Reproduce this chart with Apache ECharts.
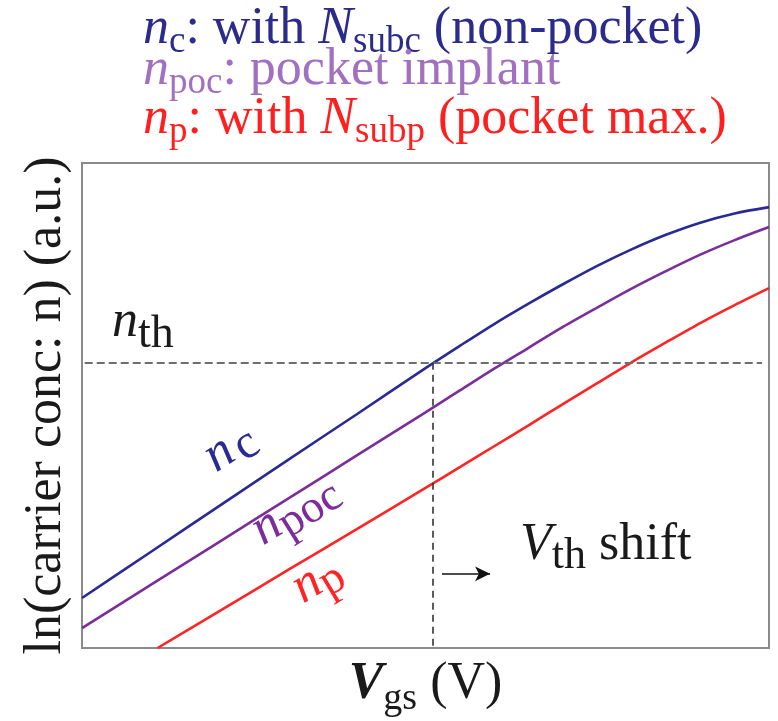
<!DOCTYPE html>
<html>
<head>
<meta charset="utf-8">
<script src="https://cdn.jsdelivr.net/npm/echarts@6/dist/echarts.min.js"></script>
<style>
  html, body { margin: 0; padding: 0; background: #fff; }
  #chart { width: 778px; height: 721px; }
</style>
</head>
<body>
<div id="chart"></div>
<script>
// Gate voltage samples (arbitrary units, 0–100 across the window)
const vgs = [0, 10, 20, 30, 40, 50, 55, 60, 65, 70, 75, 80, 85, 90, 95, 100];
// ln(n) for the non-pocket channel (N_subc)
const nC = [10.3, 19.8, 29.3, 38.8, 48.2, 57.7, 62.3, 66.8, 71.0, 75.0, 78.8, 82.2, 85.2, 87.7, 89.6, 90.9];
// ln(n) with the pocket implant
const nPoc = [4.1, 13.0, 21.9, 30.8, 39.7, 48.6, 53.1, 57.6, 61.9, 66.2, 70.2, 74.1, 77.7, 81.1, 84.1, 86.8];
// ln(n) with the pocket maximum (N_subp); enters the window later
const vgsP = [11, 20, 30, 40, 50, 55, 60, 65, 70, 75, 80, 85, 90, 95, 100];
const nP = [0, 7.6, 16.1, 24.5, 33.0, 37.3, 41.6, 45.9, 50.3, 54.6, 58.9, 63.0, 67.0, 70.7, 74.2];
// Threshold concentration level and the matching gate voltage
const nTh = 58.8;
const vTh = 51.1;
// "Vth shift" arrow: from / to gate voltage, at this ln(n) level
const shiftFrom = 52.4;
const shiftTo = 59.4;
const shiftLevel = 15.3;

const SERIF = '"Liberation Serif", "Times New Roman", serif';
const INK = '#1a1a1a';
const BLUE = '#2a2a96';
const PURPLE = '#7b2d9b';
const RED = '#ff2424';

const pairs = (xs, ys) => xs.map((x, i) => [x, ys[i]]);

// --- mixed-style text runs (italic symbols, lowered subscripts) ---
const measure = document.createElement('canvas').getContext('2d');
const fontOf = r => (r.it ? 'italic ' : '') + (r.b ? 'bold ' : '') + r.s + 'px ' + SERIF;
const widthOf = r => { measure.font = fontOf(r); return measure.measureText(r.t).width; };
const MID = 0.3375; // canvas 'middle' line sits this many em above the baseline

function textRuns(list, x0, base, fill) {
  const els = [];
  let x = x0;
  list.forEach(r => {
    x += r.dx || 0;
    els.push({
      type: 'text', silent: true,
      x: x, y: base + (r.dy || 0) - MID * r.s,
      style: { text: r.t, font: fontOf(r), fill: r.fill || fill, align: 'left', verticalAlign: 'middle' }
    });
    x += widthOf(r);
  });
  return els;
}
function runsWidth(list) {
  return list.reduce((w, r) => w + widthOf(r) + (r.dx || 0), 0);
}
function rotatedRuns(list, x, y, deg, fill) {
  return { type: 'group', x: x, y: y, rotation: deg * Math.PI / 180, children: textRuns(list, 0, 0, fill) };
}

const BIG = 52, SUB = 37;
const legend1 = [
  { t: 'n', it: 1, s: BIG }, { t: 'c', s: SUB, dy: 8 }, { t: ': with ', s: BIG },
  { t: 'N', it: 1, s: BIG }, { t: 'subc', s: SUB, dy: 8 }, { t: ' (non-pocket)', s: BIG }
];
const legend2 = [
  { t: 'n', it: 1, s: BIG }, { t: 'poc', s: SUB, dy: 8 }, { t: ': pocket implant', s: BIG }
];
const legend3 = [
  { t: 'n', it: 1, s: BIG }, { t: 'p', s: SUB, dy: 8 }, { t: ': with ', s: BIG },
  { t: 'N', it: 1, s: BIG }, { t: 'subp', s: SUB, dy: 8 }, { t: ' (pocket max.)', s: BIG }
];
const xTitle = [
  { t: 'V', it: 1, b: 1, s: 52 }, { t: 'gs', s: 38, dy: 10 }, { t: ' (V)', s: 52 }
];
const plotLeft = 82, plotRight = 769;
const xTitleStart = (plotLeft + plotRight) / 2 - runsWidth(xTitle) / 2;

const graphics = [].concat(
  textRuns(legend1, 143, 47, '#2b2b8c'),
  textRuns(legend2, 143, 88, '#a270c0'),
  textRuns(legend3, 143, 137, '#ff1f1f'),
  textRuns([{ t: 'n', it: 1, s: 52 }, { t: 'th', s: 46, dy: 10 }], 112, 340, INK),
  textRuns([{ t: 'V', it: 1, s: 52 }, { t: 'th', s: 44, dy: 8 }, { t: ' shift', s: 52 }], 520, 563, INK),
  textRuns(xTitle, xTitleStart, 702, INK),
  [
    rotatedRuns([{ t: 'n', it: 1, s: 52 }, { t: 'c', s: 48, dy: 6, dx: 4 }], 218, 476, 33, BLUE),
    rotatedRuns([{ t: 'n', it: 1, s: 52 }, { t: 'poc', s: 46, dy: 7 }], 265, 549, 32, PURPLE),
    rotatedRuns([{ t: 'n', it: 1, s: 52 }, { t: 'p', s: 46, dy: 7 }], 305, 607, 31, RED)
  ]
);

const chart = echarts.init(document.getElementById('chart'), null, { renderer: 'canvas' });

const curve = (name, data, color) => ({
  name: name, type: 'line', data: data, smooth: 0.3,
  showSymbol: false, symbol: 'none', animation: false,
  lineStyle: { color: color, width: 2.6 }, z: 3
});

chart.setOption({
  animation: false,
  backgroundColor: '#fff',
  grid: {
    left: plotLeft, right: 778 - plotRight, top: 163, bottom: 73,
    show: true, borderColor: '#8a8a8a', borderWidth: 2, backgroundColor: 'transparent'
  },
  xAxis: {
    type: 'value', min: 0, max: 100,
    axisLine: { show: false }, axisTick: { show: false }, axisLabel: { show: false }, splitLine: { show: false }
  },
  yAxis: {
    type: 'value', min: 0, max: 100,
    name: 'ln(carrier conc: n) (a.u.)', nameLocation: 'middle', nameRotate: 90, nameGap: 10,
    nameTextStyle: { fontFamily: SERIF, fontSize: 52, color: INK },
    axisLine: { show: false }, axisTick: { show: false }, axisLabel: { show: false }, splitLine: { show: false }
  },
  series: [
    curve('n_c', pairs(vgs, nC), BLUE),
    curve('n_poc', pairs(vgs, nPoc), PURPLE),
    curve('n_p', pairs(vgsP, nP), RED),
    {
      // threshold guides and the shift arrow
      type: 'line', data: [], silent: true, z: 2,
      markLine: {
        silent: true, animation: false, symbol: ['none', 'none'], label: { show: false },
        data: [
          [{ coord: [0.4, nTh], lineStyle: { color: '#6e6e6e', width: 2, type: [8, 4] } }, { coord: [99, nTh] }],
          [{ coord: [vTh, nTh], lineStyle: { color: '#333', width: 1.6, type: [7, 5] } }, { coord: [vTh, 0] }],
          [{ coord: [shiftFrom, shiftLevel], symbol: 'none', lineStyle: { color: '#111', width: 1.6, type: 'solid' } },
           { coord: [shiftTo, shiftLevel], symbol: 'arrow', symbolSize: [11, 15] }]
        ]
      }
    }
  ],
  graphic: { elements: graphics }
});
</script>
</body>
</html>
